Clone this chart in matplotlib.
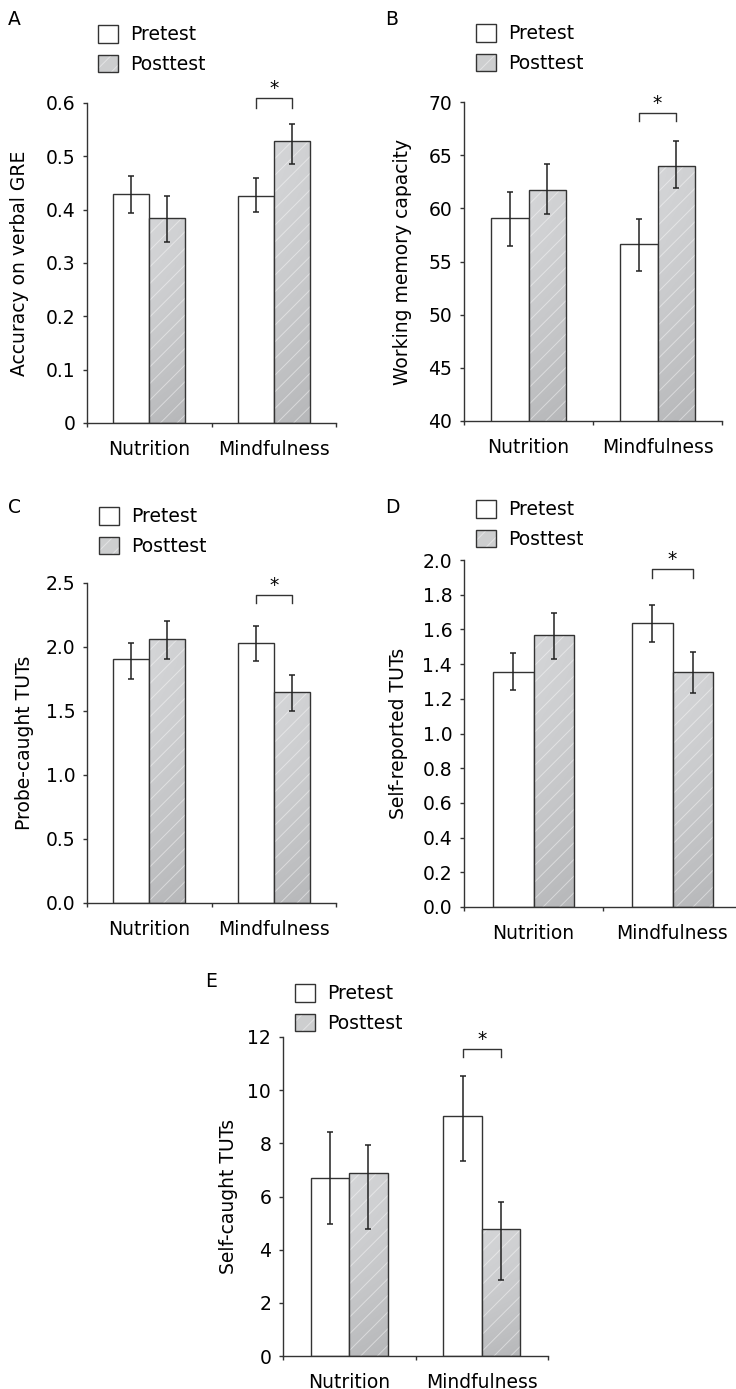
import matplotlib
matplotlib.use('Agg')
import numpy as np
import matplotlib.pyplot as plt
from matplotlib.patches import Patch
from matplotlib.colors import LinearSegmentedColormap

plt.rc('font', size=13.5)
plt.rcParams['hatch.linewidth'] = 0.7

W, H = 736, 1389

categories = ['Nutrition', 'Mindfulness']
series = ['Pretest', 'Posttest']

# A: verbal GRE accuracy (mean, [lower err, upper err])
gre_pre = [0.429, 0.426]
gre_post = [0.384, 0.528]
gre_pre_err = [[0.036, 0.031], [0.035, 0.033]]
gre_post_err = [[0.044, 0.042], [0.042, 0.033]]
gre_ticks = [0, 0.1, 0.2, 0.3, 0.4, 0.5, 0.6]
gre_ticklabels = ['0', '0.1', '0.2', '0.3', '0.4', '0.5', '0.6']

# B: working memory capacity
wmc_pre = [59.1, 56.6]
wmc_post = [61.7, 64.0]
wmc_pre_err = [[2.6, 2.5], [2.45, 2.35]]
wmc_post_err = [[2.2, 2.05], [2.5, 2.3]]
wmc_ticks = [40, 45, 50, 55, 60, 65, 70]
wmc_ticklabels = ['40', '45', '50', '55', '60', '65', '70']

# C: probe-caught TUTs
probe_pre = [1.905, 2.03]
probe_post = [2.062, 1.652]
probe_pre_err = [[0.154, 0.141], [0.125, 0.131]]
probe_post_err = [[0.157, 0.149], [0.141, 0.133]]
probe_ticks = [0, 0.5, 1.0, 1.5, 2.0, 2.5]
probe_ticklabels = ['0.0', '0.5', '1.0', '1.5', '2.0', '2.5']

# D: self-reported TUTs
selfrep_pre = [1.357, 1.638]
selfrep_post = [1.567, 1.357]
selfrep_pre_err = [[0.108, 0.110], [0.106, 0.100]]
selfrep_post_err = [[0.139, 0.123], [0.125, 0.114]]
selfrep_ticks = [0, 0.2, 0.4, 0.6, 0.8, 1.0, 1.2, 1.4, 1.6, 1.8, 2.0]
selfrep_ticklabels = ['0.0', '0.2', '0.4', '0.6', '0.8', '1.0', '1.2', '1.4', '1.6', '1.8', '2.0']

# E: self-caught TUTs
selfcaught_pre = [6.71, 9.03]
selfcaught_post = [6.89, 4.76]
selfcaught_pre_err = [[1.75, 1.68], [1.71, 1.50]]
selfcaught_post_err = [[2.13, 1.91], [1.03, 1.02]]
selfcaught_ticks = [0, 2, 4, 6, 8, 10, 12]
selfcaught_ticklabels = ['0', '2', '4', '6', '8', '10', '12']

# letter, ylabel, data, ticks, axes box (px: l, t, r, b), legend px, letter px, labelpad, bracket (top, bottom)
panels = [
    ('A', 'Accuracy on verbal GRE', gre_pre, gre_post, gre_pre_err, gre_post_err,
     gre_ticks, gre_ticklabels, (87, 103, 336, 423), (98, 25), (8, 10), 11.5, (0.609, 0.591)),
    ('B', 'Working memory capacity', wmc_pre, wmc_post, wmc_pre_err, wmc_post_err,
     wmc_ticks, wmc_ticklabels, (464, 102, 722, 421), (476, 24), (385, 10), 12, (69.0, 68.2)),
    ('C', 'Probe-caught TUTs', probe_pre, probe_post, probe_pre_err, probe_post_err,
     probe_ticks, probe_ticklabels, (87, 583, 336, 903), (99, 507), (8, 498), 8.5, (2.41, 2.343)),
    ('D', 'Self-reported TUTs', selfrep_pre, selfrep_post, selfrep_pre_err, selfrep_post_err,
     selfrep_ticks, selfrep_ticklabels, (464, 560, 742, 907), (476, 500), (385, 498), 10.5, (1.946, 1.898)),
    ('E', 'Self-caught TUTs', selfcaught_pre, selfcaught_post, selfcaught_pre_err, selfcaught_post_err,
     selfcaught_ticks, selfcaught_ticklabels, (283, 1037, 548, 1356), (295, 984), (205, 972), 7, (11.56, 11.25)),
]

edge = '#333333'
post_color = '#cdcecf'
post_cmap = LinearSegmentedColormap.from_list('post', ['#d4d5d7', '#b6b7b9'])
bw = 0.29


def do_plot():
    fig = plt.figure(figsize=(W / 100, H / 100), dpi=100)
    gy, gx = np.mgrid[0:1:200j, 0:1:40j]
    grad = 0.85 * gy ** 1.5 + 0.15 * gx

    for (letter, ylabel, pre, post, pre_err, post_err, yticks, yticklabels,
         box, leg, lpos, lpad, bracket) in panels:
        l, t, r, b = box
        ax = fig.add_axes([l / W, 1 - b / H, (r - l) / W, (b - t) / H])
        ylim = (yticks[0], yticks[-1])
        x = range(len(categories))
        xp = [i - bw / 2 for i in x]
        xq = [i + bw / 2 for i in x]
        ax.bar(xp, pre, width=bw, color='white', edgecolor=edge, linewidth=1.0, zorder=2)
        bars = ax.bar(xq, post, width=bw, color=post_color, linewidth=0, zorder=2)
        # soft shading in the posttest bars, darker towards the bottom
        for rect in bars:
            x0 = rect.get_x()
            im = ax.imshow(grad, cmap=post_cmap, extent=[x0, x0 + bw, ylim[0], rect.get_height()],
                           origin='upper', aspect='auto', interpolation='bilinear', zorder=2.1)
            im.set_clip_path(rect)
        ax.bar(xq, post, width=bw, fill=False, edgecolor=(1, 1, 1, 0.45), linewidth=0,
               hatch='//', zorder=2.2)
        ax.bar(xq, post, width=bw, fill=False, edgecolor=edge, linewidth=1.0, zorder=3)
        ax.errorbar(xp, pre, yerr=pre_err, fmt='none', ecolor='#222222', elinewidth=1.1,
                    capsize=2.2, capthick=1.1, zorder=4)
        ax.errorbar(xq, post, yerr=post_err, fmt='none', ecolor='#222222', elinewidth=1.1,
                    capsize=2.2, capthick=1.1, zorder=4)

        # significance bracket on the mindfulness group
        yt, yb = bracket
        x0, x1 = xp[1], xq[1]
        ax.plot([x0, x0, x1, x1], [yb, yt, yt, yb], color=edge, lw=1.0, clip_on=False)
        ax.text((x0 + x1) / 2, yt, '*', ha='center', va='bottom', clip_on=False)

        ax.set_xlim(-0.5, 1.5)
        ax.set_ylim(*ylim)
        ax.set_yticks(yticks)
        ax.set_yticklabels(yticklabels)
        ax.set_xticks(list(x))
        ax.set_xticklabels(categories)
        ax.set_xticks([-0.5, 0.5, 1.5], minor=True)
        ax.tick_params(axis='x', which='major', length=0, pad=12)
        ax.tick_params(axis='x', which='minor', length=3, width=1, color=edge, direction='out')
        ax.tick_params(axis='y', length=3, width=1, color=edge, direction='out', pad=5.5)
        for s in ['top', 'right']:
            ax.spines[s].set_visible(False)
        for s in ['left', 'bottom']:
            ax.spines[s].set_color(edge)
            ax.spines[s].set_linewidth(1.0)
        ax.set_ylabel(ylabel, labelpad=lpad)

        h_pre = Patch(facecolor='white', edgecolor=edge, linewidth=1.0)
        h_post = (Patch(facecolor=post_color, edgecolor=(1, 1, 1, 0.45), linewidth=0, hatch='//'),
                  Patch(fill=False, edgecolor=edge, linewidth=1.0))
        ax.legend([h_pre, h_post], series, loc='upper left',
                  bbox_to_anchor=(leg[0] / W, 1 - leg[1] / H), bbox_transform=fig.transFigure,
                  frameon=False, borderpad=0, borderaxespad=0, handlelength=1.07,
                  handleheight=1.07, handletextpad=0.64, labelspacing=0.55)

        fig.text(lpos[0] / W, 1 - lpos[1] / H, letter, ha='left', va='top')

    plt.savefig('out.png', dpi=100)


if __name__ == '__main__':
    do_plot()
